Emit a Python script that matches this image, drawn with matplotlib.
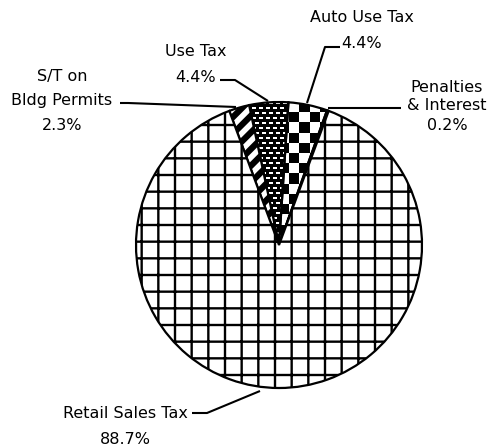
import matplotlib
matplotlib.use("Agg")
import matplotlib.pyplot as plt
import numpy as np

# slice data, counter-clockwise starting just right of the top
categories = ["Penalties\n& Interest", "Auto Use Tax", "Use Tax",
              "S/T on\nBldg Permits", "Retail Sales Tax"]
shares = [0.2, 4.4, 4.4, 2.3, 88.7]
pct_labels = ["0.2%", "4.4%", "4.4%", "2.3%", "88.7%"]
hatches = [None, "checker", "brick", "//", "+"]

W, H = 500, 446
CX, CY, R = 279, 245, 143  # pie centre and radius in pixels


def px(x, y):
    """pixel position (from top-left) -> data coords of the pie axes"""
    return (x - CX) / R, (CY - y) / R


plt.rcParams["font.family"] = ["DejaVu Sans"]
plt.rcParams["hatch.linewidth"] = 1.7

fig = plt.figure(figsize=(W / 100, H / 100), dpi=100)
ax = fig.add_axes([0, 0, 1, 1])

start = 90 - sum(shares[:4]) / 100 * 360 / 2
wedges, _ = ax.pie(shares, startangle=start, counterclock=True, radius=1,
                   wedgeprops=dict(edgecolor="black", linewidth=1.6,
                                   facecolor="white"))

for w, h in zip(wedges, hatches):
    if h is None:
        w.set_facecolor("black")
    elif h in ("checker", "brick"):
        w.set_facecolor("none")
    else:
        w.set_hatch(h)
        if h == "//" and hasattr(w, "set_hatch_linewidth"):
            w.set_hatch_linewidth(4.5)

# checkerboard texture for Auto Use Tax
n = 28
ii, jj = np.indices((n, n))
checker = ((ii + jj) % 2).astype(float)
im = ax.imshow(checker, cmap="gray", vmin=0, vmax=1, extent=(-1, 1, -1, 1),
               interpolation="nearest", zorder=0.5)
im.set_clip_path(wedges[1])

# brick / dash texture for Use Tax
m = 2 * R
rr, cc = np.indices((m, m))
brick = np.zeros((m, m))
row_on = (rr % 5) < 2
shift = ((rr // 5) % 2) * 3
col_on = ((cc + shift) % 7) < 4
brick[row_on & col_on] = 1.0
im2 = ax.imshow(brick, cmap="gray", vmin=0, vmax=1, extent=(-1, 1, -1, 1),
                interpolation="none", zorder=0.5)
im2.set_clip_path(wedges[2])

ax.set_xlim(px(0, 0)[0], px(W, 0)[0])
ax.set_ylim(px(0, H)[1], px(0, 0)[1])
ax.set_aspect("auto")
ax.axis("off")

fs = 11.5
lw = 1.5


def label(lines, x, ys):
    for s, y in zip(lines, ys):
        ax.text(*px(x, y), s, ha="center", va="center", fontsize=fs)


def leader(*pts):
    ax.plot(*zip(*[px(*p) for p in pts]), color="black", lw=lw,
            solid_capstyle="butt")


# labels (pixel positions of text centres)
label(categories[0].split("\n") + [pct_labels[0]], 447, [88, 106, 125])
leader((401, 108), (328, 108))

label([categories[1], pct_labels[1]], 362, [18, 43])
leader((340, 47), (325, 47), (307, 103))

label([categories[2], pct_labels[2]], 196, [52, 77])
leader((220, 80), (235, 80), (268, 101))

label(categories[3].split("\n") + [pct_labels[3]], 62, [76, 101, 125])
leader((120, 103), (128, 103), (236, 107))

label([categories[4], pct_labels[4]], 125, [413, 439])
leader((192, 413), (207, 413), (260, 391))

fig.savefig("out.png", dpi=100)
